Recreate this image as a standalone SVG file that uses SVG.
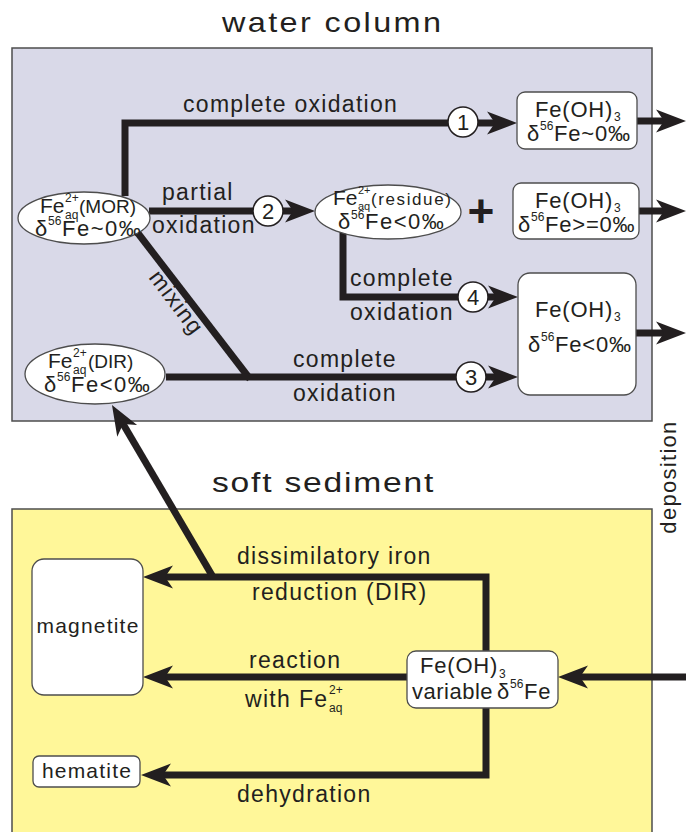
<svg xmlns="http://www.w3.org/2000/svg" width="686" height="832" viewBox="0 0 686 832">
<defs>
<style>
text { font-family: "Liberation Sans", Arial, sans-serif; fill: #231f20; }
.title { font-size: 27px; letter-spacing: 2px; }
.lbl { font-size: 23px; letter-spacing: 1.3px; }
.nt { font-size: 22px; letter-spacing: 0.8px; }
.sm { font-size: 12px; letter-spacing: 0px; }
.num { font-size: 22px; text-anchor: middle; }
.conn { fill: none; stroke: #231f20; stroke-width: 7; stroke-linejoin: miter; }
.arr { marker-end: url(#ah); }
.node { fill: #ffffff; stroke: #4d4d4d; stroke-width: 1.3; }
.circ { fill: #ffffff; stroke: #231f20; stroke-width: 1.5; }
.panel { stroke: #4d4d4d; stroke-width: 1.5; }
</style>
<marker id="ah" markerUnits="userSpaceOnUse" orient="auto" refX="0" refY="0" markerWidth="40" markerHeight="30" viewBox="-12 -15 40 30" overflow="visible">
<path d="M19,0 L-11,-11.5 L-3,0 L-11,11.5 Z" fill="#231f20"/>
</marker>
</defs>

<g id="panels">
<rect x="12" y="48" width="640" height="373" fill="#D9D9E8" class="panel"/>
<rect x="12" y="509" width="640" height="340" fill="#FFF799" class="panel"/>
<text class="title" transform="translate(222,32) scale(1.2,1)">water column</text>
<text class="title" transform="translate(212,492) scale(1.2,1)" style="font-size:28px;letter-spacing:1.5px">soft sediment</text>
<text class="lbl" transform="translate(676,477) rotate(-90)" text-anchor="middle" style="font-size:22px">deposition</text>
</g>

<g id="connectors">
<path class="conn arr" d="M125,196 V123 H498"/>
<path class="conn arr" d="M149,211 H296"/>
<path class="conn arr" d="M343,232 V297 H499"/>
<path class="conn" d="M137,232 L250,379"/>
<path class="conn arr" d="M166,377 H499"/>
<path class="conn arr" d="M637,121 H667"/>
<path class="conn arr" d="M639,211 H667"/>
<path class="conn arr" d="M636,333 H667"/>
<path class="conn arr" d="M486,651 V577 H162"/>
<path class="conn arr" d="M213,577 L121.6,421.4"/>
<path class="conn arr" d="M407,677 H162"/>
<path class="conn arr" d="M486,708 V775 H160"/>
<path class="conn arr" d="M686,677 H577"/>

<circle class="circ" cx="463" cy="122" r="15"/><text class="num" x="463" y="130">1</text>
<circle class="circ" cx="268" cy="211" r="15"/><text class="num" x="268" y="219">2</text>
<circle class="circ" cx="473" cy="297" r="15"/><text class="num" x="473" y="305">4</text>
<circle class="circ" cx="471" cy="377" r="15"/><text class="num" x="471" y="385">3</text>

<text class="lbl" x="183" y="112">complete oxidation</text>
<text class="lbl" x="162" y="200">partial</text>
<text class="lbl" x="152" y="233">oxidation</text>
<text class="lbl" x="350" y="286">complete</text>
<text class="lbl" x="350" y="320">oxidation</text>
<text class="lbl" x="293" y="367">complete</text>
<text class="lbl" x="293" y="401">oxidation</text>
<text class="lbl" transform="translate(176,303) rotate(53)" text-anchor="middle" y="7">mixing</text>
<text class="lbl" x="237" y="564">dissimilatory iron</text>
<text class="lbl" x="252" y="600">reduction (DIR)</text>
<text class="lbl" x="249" y="668">reaction</text>
<text class="lbl"><tspan x="245" y="707">with</tspan><tspan x="299" y="707">Fe</tspan><tspan class="sm" x="329" y="694">2+</tspan><tspan class="sm" x="329" y="712">aq</tspan></text>
<text class="lbl" x="237" y="802">dehydration</text>
</g>

<g id="fe-mor">
<ellipse class="node" cx="84" cy="218" rx="66" ry="26"/>
<text class="nt"><tspan x="40" y="213" style="font-size:21px;letter-spacing:0px">Fe</tspan><tspan class="sm" x="65" y="202">2+</tspan><tspan class="sm" x="65" y="219">aq</tspan><tspan x="79" y="213" style="font-size:19px;letter-spacing:0px">(MOR)</tspan></text>
<text class="nt"><tspan x="35" y="236">δ</tspan><tspan class="sm" x="48" y="225">56</tspan><tspan x="62" y="236" style="letter-spacing:1.5px">Fe~0‰</tspan></text>
</g>

<g id="fe-residue">
<ellipse class="node" cx="388" cy="212" rx="73" ry="27"/>
<text class="nt"><tspan x="333" y="205" style="font-size:21px;letter-spacing:0px">Fe</tspan><tspan class="sm" x="358" y="194" style="font-size:11px">2+</tspan><tspan class="sm" x="358" y="210" style="font-size:11px">aq</tspan><tspan x="371" y="205" style="font-size:17px;letter-spacing:1.6px">(residue)</tspan></text>
<text class="nt"><tspan x="338" y="229">δ</tspan><tspan class="sm" x="351" y="219">56</tspan><tspan x="365" y="229" style="letter-spacing:1.5px">Fe&lt;0‰</tspan></text>
</g>

<g id="fe-dir">
<ellipse class="node" cx="95" cy="374" rx="70" ry="30"/>
<text class="nt"><tspan x="48" y="368" style="font-size:21px;letter-spacing:0px">Fe</tspan><tspan class="sm" x="73" y="357">2+</tspan><tspan class="sm" x="73" y="374">aq</tspan><tspan x="88" y="368" style="font-size:19px;letter-spacing:0px">(DIR)</tspan></text>
<text class="nt"><tspan x="44" y="392">δ</tspan><tspan class="sm" x="57" y="381">56</tspan><tspan x="71" y="392" style="letter-spacing:1.5px">Fe&lt;0‰</tspan></text>
</g>

<g id="feoh-1">
<rect class="node" x="517" y="92" width="120" height="57" rx="8"/>
<text class="nt"><tspan x="535" y="117">Fe(OH)</tspan><tspan class="sm" x="614" y="121">3</tspan></text>
<text class="nt"><tspan x="527" y="141">δ</tspan><tspan class="sm" x="540" y="130">56</tspan><tspan x="554" y="141">Fe~0‰</tspan></text>
</g>

<text id="plus" x="481" y="227" text-anchor="middle" style="font-size:46px;font-weight:bold">+</text>

<g id="feoh-2">
<rect class="node" x="513" y="183" width="126" height="56" rx="8"/>
<text class="nt"><tspan x="535" y="208">Fe(OH)</tspan><tspan class="sm" x="614" y="212">3</tspan></text>
<text class="nt"><tspan x="518" y="232">δ</tspan><tspan class="sm" x="531" y="221">56</tspan><tspan x="545" y="232">Fe&gt;=0‰</tspan></text>
</g>

<g id="feoh-3">
<rect class="node" x="518" y="273" width="118" height="122" rx="12"/>
<text class="nt"><tspan x="535" y="317">Fe(OH)</tspan><tspan class="sm" x="614" y="321">3</tspan></text>
<text class="nt"><tspan x="528" y="352">δ</tspan><tspan class="sm" x="541" y="341">56</tspan><tspan x="555" y="352">Fe&lt;0‰</tspan></text>
</g>

<g id="magnetite">
<rect class="node" x="32" y="559" width="111" height="136" rx="12"/>
<text class="nt" x="88" y="633" text-anchor="middle" style="font-size:21px;letter-spacing:1.2px">magnetite</text>
</g>

<g id="hematite">
<rect class="node" x="33" y="756" width="107" height="31" rx="6"/>
<text class="nt" x="87" y="778" text-anchor="middle" style="font-size:21px;letter-spacing:1.2px">hematite</text>
</g>

<g id="feoh-variable">
<rect class="node" x="407" y="651" width="151" height="57" rx="9"/>
<text class="nt"><tspan x="420" y="673">Fe(OH)</tspan><tspan class="sm" x="499" y="678">3</tspan></text>
<text class="nt"><tspan x="412" y="699" style="letter-spacing:0.5px">variable</tspan><tspan x="497" y="699">δ</tspan><tspan class="sm" x="510" y="688">56</tspan><tspan x="524" y="699">Fe</tspan></text>
</g>
</svg>
